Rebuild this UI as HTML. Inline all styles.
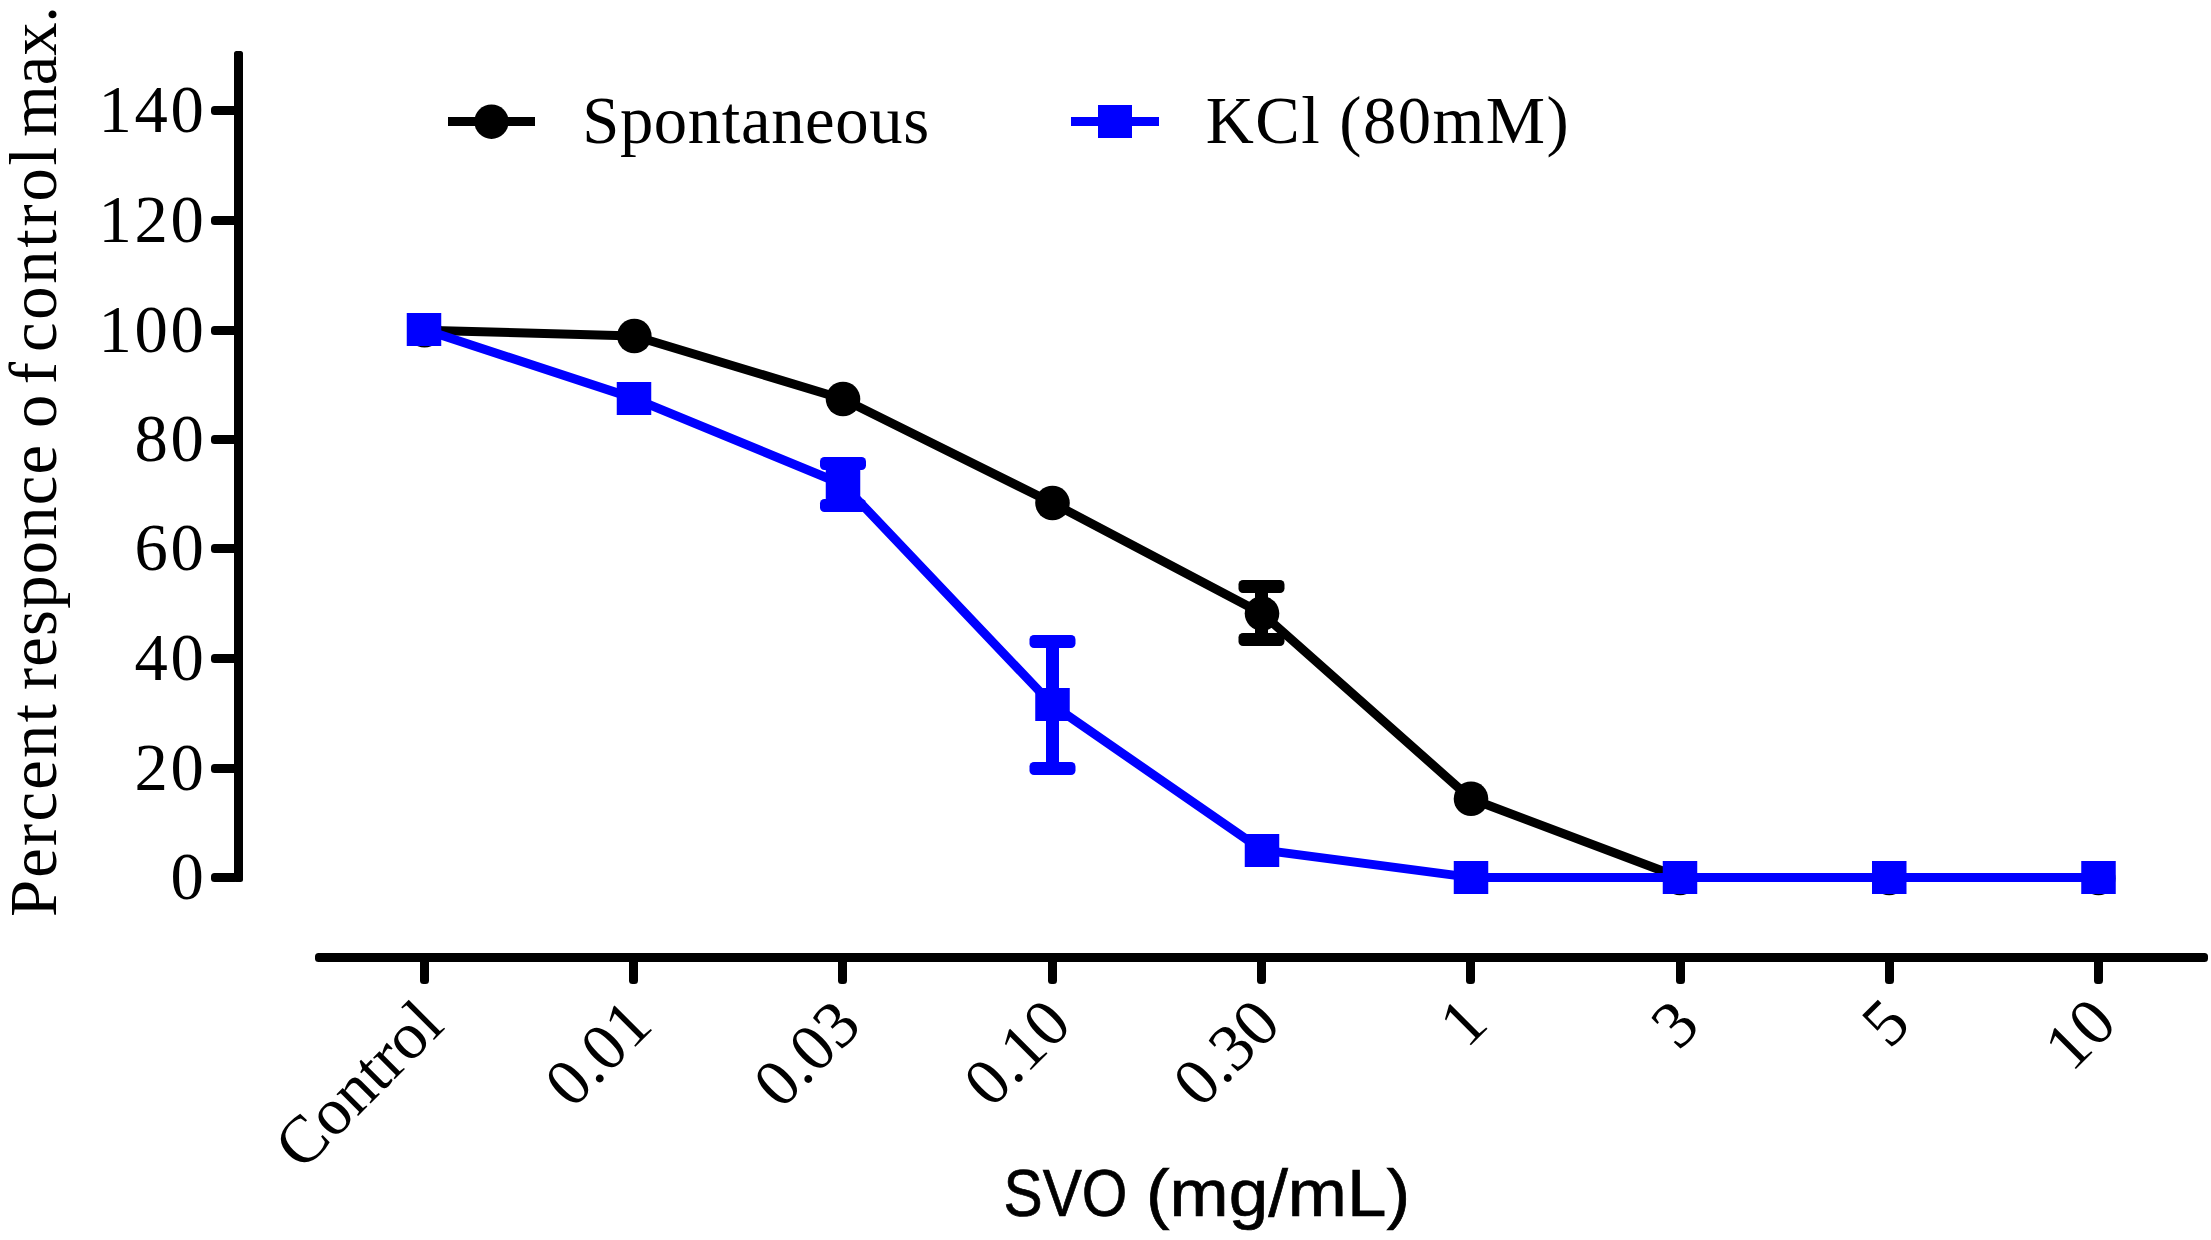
<!DOCTYPE html>
<html><head><meta charset="utf-8"><title>SVO chart</title>
<style>html,body{margin:0;padding:0;background:#fff}svg{display:block}text{font-family:"Liberation Serif",serif;font-size:66.67px;fill:#000}.sans{font-family:"Liberation Sans",sans-serif;font-size:67px;stroke:#000;stroke-width:0.7px}</style></head>
<body>
<svg width="2211" height="1240" viewBox="0 0 2211 1240">
<rect width="2211" height="1240" fill="#fff"/>
<g fill="#000">
<rect x="234" y="51" width="9" height="831" rx="2.5"/>
<rect x="211" y="873.0" width="27" height="9" rx="3.5"/>
<rect x="211" y="764.0" width="27" height="9" rx="3.5"/>
<rect x="211" y="654.0" width="27" height="9" rx="3.5"/>
<rect x="211" y="544.0" width="27" height="9" rx="3.5"/>
<rect x="211" y="435.0" width="27" height="9" rx="3.5"/>
<rect x="211" y="326.0" width="27" height="9" rx="3.5"/>
<rect x="211" y="216.0" width="27" height="9" rx="3.5"/>
<rect x="211" y="106.0" width="27" height="9" rx="3.5"/>
<rect x="315" y="953" width="1893" height="9" rx="3.5"/>
<rect x="420.0" y="957" width="9" height="27" rx="3.5"/>
<rect x="629.0" y="957" width="9" height="27" rx="3.5"/>
<rect x="838.0" y="957" width="9" height="27" rx="3.5"/>
<rect x="1048.0" y="957" width="9" height="27" rx="3.5"/>
<rect x="1257.0" y="957" width="9" height="27" rx="3.5"/>
<rect x="1466.0" y="957" width="9" height="27" rx="3.5"/>
<rect x="1676.0" y="957" width="9" height="27" rx="3.5"/>
<rect x="1885.0" y="957" width="9" height="27" rx="3.5"/>
<rect x="2094.0" y="957" width="9" height="27" rx="3.5"/>
</g>
<text x="170.4" y="899.0" letter-spacing="2.67">0</text>
<text x="134.4" y="790.0" letter-spacing="2.67">20</text>
<text x="134.4" y="680.0" letter-spacing="2.67">40</text>
<text x="134.4" y="570.0" letter-spacing="2.67">60</text>
<text x="134.4" y="461.0" letter-spacing="2.67">80</text>
<text x="98.4" y="352.0" letter-spacing="2.67">100</text>
<text x="98.4" y="242.0" letter-spacing="2.67">120</text>
<text x="98.4" y="132.0" letter-spacing="2.67">140</text>
<text transform="translate(56,917.0) rotate(-90)" textLength="213.0" lengthAdjust="spacing">Percent</text>
<text transform="translate(56,690.0) rotate(-90)" textLength="245.0" lengthAdjust="spacing">responce</text>
<text transform="translate(56,428.0) rotate(-90)" textLength="66.0" lengthAdjust="spacing">of</text>
<text transform="translate(56,352.0) rotate(-90)" textLength="205.0" lengthAdjust="spacing">control</text>
<text transform="translate(56,137.0) rotate(-90)" textLength="131.0" lengthAdjust="spacing">max.</text>
<text transform="translate(446.0,1028.0) rotate(-45)" text-anchor="end">Control</text>
<text transform="translate(654.8,1027.5) rotate(-45)" text-anchor="end">0.01</text>
<text transform="translate(863.5,1028.0) rotate(-45)" text-anchor="end">0.03</text>
<text transform="translate(1073.8,1027.0) rotate(-45)" text-anchor="end">0.10</text>
<text transform="translate(1283.0,1027.0) rotate(-45)" text-anchor="end">0.30</text>
<text transform="translate(1490.2,1026.0) rotate(-45)" text-anchor="end">1</text>
<text transform="translate(1702.0,1028.0) rotate(-45)" text-anchor="end">3</text>
<text transform="translate(1912.8,1026.5) rotate(-45)" text-anchor="end">5</text>
<text transform="translate(2119.0,1026.0) rotate(-45)" text-anchor="end">10</text>
<text class="sans" y="1216"><tspan x="1003.5" textLength="124" lengthAdjust="spacingAndGlyphs">SVO</tspan> <tspan x="1146" textLength="264" lengthAdjust="spacingAndGlyphs">(mg/mL)</tspan></text>
<rect x="448" y="117" width="87" height="9" fill="#000"/><circle cx="491.5" cy="121.7" r="17.2" fill="#000"/>
<text x="582.2" y="143" textLength="347" lengthAdjust="spacing">Spontaneous</text>
<rect x="1071" y="117" width="88" height="9" fill="#00f"/><rect x="1098" y="105" width="34" height="33" fill="#00f"/>
<text x="1205.7" y="143" textLength="363" lengthAdjust="spacing">KCl (80mM)</text>
<polyline fill="none" stroke="#000" stroke-width="9" stroke-linejoin="round" points="424.5,330.3 634.3,336.0 843.0,399.0 1052.5,503.0 1262.0,613.5 1471.0,798.8 1680.0,877.5 1889.2,877.5 2098.5,877.5"/>
<g fill="#000"><rect x="1255.0" y="586.5" width="13" height="53.0"/><rect x="1238.5" y="580.0" width="46" height="13" rx="4.5"/><rect x="1238.5" y="633.0" width="46" height="13" rx="4.5"/></g>
<circle cx="424.5" cy="330.3" r="17.3" fill="#000"/>
<circle cx="634.3" cy="336.0" r="17.3" fill="#000"/>
<circle cx="843.0" cy="399.0" r="17.3" fill="#000"/>
<circle cx="1052.5" cy="503.0" r="17.3" fill="#000"/>
<circle cx="1262.0" cy="613.5" r="17.3" fill="#000"/>
<circle cx="1471.0" cy="798.8" r="17.3" fill="#000"/>
<circle cx="1680.0" cy="878.3" r="17.0" fill="#000"/>
<circle cx="1889.2" cy="878.3" r="17.0" fill="#000"/>
<circle cx="2098.5" cy="878.3" r="17.0" fill="#000"/>
<polyline fill="none" stroke="#00f" stroke-width="9" stroke-linejoin="round" points="424.0,329.5 634.0,398.4 843.0,484.5 1052.5,705.0 1262.0,850.0 1471.0,877.4 1680.0,877.5 1889.2,877.5 2098.5,877.5"/>
<g fill="#00f"><rect x="836.5" y="463.5" width="13" height="42.0"/><rect x="820.0" y="457.0" width="46" height="13" rx="4.5"/><rect x="820.0" y="499.0" width="46" height="13" rx="4.5"/></g>
<g fill="#00f"><rect x="1046.0" y="641.5" width="13" height="127.0"/><rect x="1029.5" y="635.0" width="46" height="13" rx="4.5"/><rect x="1029.5" y="762.0" width="46" height="13" rx="4.5"/></g>
<rect x="406.75" y="313.0" width="34.5" height="33" fill="#00f"/>
<rect x="616.75" y="382.0" width="34.5" height="33" fill="#00f"/>
<rect x="825.75" y="468.0" width="34.5" height="33" fill="#00f"/>
<rect x="1035.25" y="688.0" width="34.5" height="33" fill="#00f"/>
<rect x="1244.75" y="834.0" width="34.5" height="33" fill="#00f"/>
<rect x="1453.75" y="861.0" width="34.5" height="33" fill="#00f"/>
<rect x="1662.75" y="861.0" width="34.5" height="33" fill="#00f"/>
<rect x="1872.00" y="861.0" width="34.5" height="33" fill="#00f"/>
<rect x="2081.25" y="861.0" width="34.5" height="33" fill="#00f"/>
</svg>
</body></html>
